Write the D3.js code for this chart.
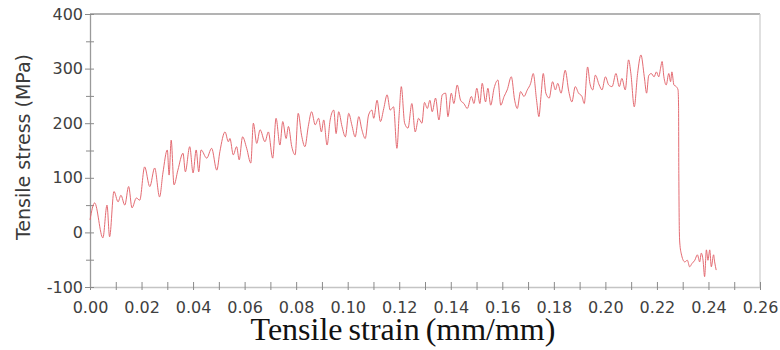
<!DOCTYPE html>
<html>
<head>
<meta charset="utf-8">
<script src="https://cdn.jsdelivr.net/npm/d3@7/dist/d3.min.js"></script>
<style>
  html, body { margin: 0; padding: 0; background: #fff; }
  svg { display: block; }
</style>
</head>
<body>
<svg id="chart" width="780" height="350"></svg>
<script>
// ---- data ----
const strain = [
  0.0000,0.0018,0.0050,0.0066,0.0076,0.0093,0.0109,0.0120,0.0135,0.0150,
  0.0163,0.0180,0.0193,0.0212,0.0232,0.0251,0.0270,0.0283,0.0300,0.0307,
  0.0315,0.0326,0.0341,0.0361,0.0370,0.0387,0.0400,0.0412,0.0422,0.0431,
  0.0453,0.0472,0.0492,0.0504,0.0524,0.0537,0.0543,0.0556,0.0569,0.0579,
  0.0592,0.0608,0.0624,0.0634,0.0647,0.0660,0.0679,0.0692,0.0709,0.0722,
  0.0737,0.0748,0.0761,0.0770,0.0783,0.0796,0.0808,0.0821,0.0834,0.0847,
  0.0860,0.0874,0.0887,0.0898,0.0907,0.0920,0.0932,0.0946,0.0955,0.0965,
  0.0978,0.0991,0.1004,0.1016,0.1029,0.1043,0.1055,0.1068,0.1081,0.1094,
  0.1101,0.1114,0.1127,0.1140,0.1153,0.1165,0.1178,0.1191,0.1200,0.1208,
  0.1221,0.1234,0.1249,0.1262,0.1275,0.1288,0.1298,0.1309,0.1319,0.1328,
  0.1341,0.1354,0.1367,0.1380,0.1389,0.1402,0.1412,0.1425,0.1438,0.1451,
  0.1464,0.1480,0.1490,0.1501,0.1513,0.1522,0.1535,0.1544,0.1555,0.1568,
  0.1583,0.1594,0.1607,0.1619,0.1635,0.1648,0.1658,0.1671,0.1684,0.1697,
  0.1710,0.1720,0.1733,0.1742,0.1750,0.1759,0.1769,0.1782,0.1795,0.1806,
  0.1815,0.1828,0.1844,0.1858,0.1870,0.1883,0.1896,0.1909,0.1918,0.1931,
  0.1940,0.1951,0.1961,0.1976,0.1987,0.2000,0.2013,0.2026,0.2041,0.2054,
  0.2064,0.2077,0.2090,0.2099,0.2112,0.2125,0.2138,0.2151,0.2160,0.2168,
  0.2178,0.2189,0.2198,0.2207,0.2215,0.2220,0.2227,0.2236,0.2246,0.2253,
  0.2258,0.2266,0.2275,0.2282,0.2284,0.2285,0.2288,0.2294,0.2308,0.2318,
  0.2327,0.2336,0.2347,0.2357,0.2366,0.2372,0.2379,0.2385,0.2392,0.2398,
  0.2405,0.2411,0.2420,0.2424,0.2430
];
const stress = [
  23,54,-10,50,-8,75,56,68,50,84,
  45,63,59,120,84,118,65,109,151,105,
  169,87,114,145,111,157,109,151,111,151,
  136,154,114,148,184,166,172,142,157,133,
  175,154,127,200,163,188,166,184,136,209,
  160,203,172,194,157,142,218,178,157,194,
  221,197,209,184,206,160,206,224,181,221,
  194,175,218,197,175,212,188,172,215,224,
  209,242,203,227,252,224,230,154,218,267,
  200,191,236,184,209,200,238,227,242,221,
  246,206,252,255,212,255,236,270,242,236,
  227,249,236,264,236,273,239,264,233,264,
  279,233,249,261,285,242,227,258,249,261,
  273,291,242,212,249,291,255,246,276,261,
  273,255,297,258,239,267,255,249,236,303,
  273,261,288,270,261,285,270,267,291,267,
  282,261,316,291,230,291,325,285,255,287,
  291,285,294,285,303,313,285,270,291,276,
  294,270,267,261,230,108,-14,-38,-54,-51,
  -63,-57,-51,-41,-54,-38,-51,-81,-32,-51,
  -32,-63,-41,-54,-69
];
const xTickLabels = [0,0.02,0.04,0.06,0.08,0.10,0.12,0.14,0.16,0.18,0.20,0.22,0.24,0.26];
const xMinorTicks = [0.01,0.03,0.05,0.07,0.09,0.11,0.13,0.15,0.17,0.19,0.21,0.23,0.25];
const yTickLabels = [-100,0,100,200,300,400];
const yMinorTicks = [-50,50,150,250,350];
const xTitle = "Tensile strain (mm/mm)";
const yTitle = "Tensile stress (MPa)";

// ---- layout ----
const W = 780, H = 350;
const m = { left: 90, top: 14, right: 20, bottom: 63 };
const iw = W - m.left - m.right, ih = H - m.top - m.bottom;

const svg = d3.select("#chart");
const g = svg.append("g").attr("transform", `translate(${m.left},${m.top})`);

const x = d3.scaleLinear().domain([0, 0.26]).range([0, iw]);
const y = d3.scaleLinear().domain([-100, 400]).range([ih, 0]);

// frame: top and right borders
g.append("line").attr("x1", 0).attr("x2", iw).attr("y1", 0).attr("y2", 0)
  .attr("stroke", "#9a9a9a").attr("stroke-width", 1.3);
g.append("line").attr("x1", iw).attr("x2", iw).attr("y1", 0).attr("y2", ih)
  .attr("stroke", "#d0d0d0").attr("stroke-width", 1.3);

const font = "'DejaVu Sans', Verdana, sans-serif";

// x axis
const xAxis = g.append("g").attr("transform", `translate(0,${ih})`)
  .call(d3.axisBottom(x).tickValues(xTickLabels).tickFormat(d3.format(".2f"))
    .tickSizeInner(5).tickSizeOuter(0).tickPadding(10));
xAxis.select(".domain").attr("stroke", "#c4c4c4").attr("stroke-width", 1.3);
xAxis.selectAll(".tick line").attr("stroke", "#8a8a8a").attr("y1", -5).attr("y2", 3);
xAxis.selectAll(".tick text").attr("fill", "#404040")
  .style("font-family", font).style("font-size", "16px");
const xMinor = g.append("g").attr("transform", `translate(0,${ih})`)
  .call(d3.axisBottom(x).tickValues(xMinorTicks).tickFormat("").tickSizeOuter(0));
xMinor.select(".domain").remove();
xMinor.selectAll(".tick line").attr("stroke", "#8a8a8a").attr("y1", -5).attr("y2", 3);

// y axis
const yAxis = g.append("g")
  .call(d3.axisLeft(y).tickValues(yTickLabels).tickFormat(d => String(d))
    .tickSizeInner(5).tickSizeOuter(0).tickPadding(2));
yAxis.select(".domain").attr("stroke", "#9a9a9a").attr("stroke-width", 1.3);
yAxis.selectAll(".tick line").attr("stroke", "#8a8a8a").attr("x1", -5).attr("x2", 4);
yAxis.selectAll(".tick text").attr("fill", "#404040").attr("x", -7)
  .style("font-family", font).style("font-size", "16px");
const yMinor = g.append("g")
  .call(d3.axisLeft(y).tickValues(yMinorTicks).tickFormat("").tickSizeOuter(0));
yMinor.select(".domain").remove();
yMinor.selectAll(".tick line").attr("stroke", "#8a8a8a").attr("x1", -4).attr("x2", 4);

// line
const pts = strain.map((s, i) => [s, stress[i]]);
const line = d3.line().x(d => x(d[0])).y(d => y(d[1])).curve(d3.curveMonotoneX);
g.append("path").datum(pts).attr("d", line)
  .attr("fill", "none").attr("stroke", "#e2636a").attr("stroke-width", 0.95)
  .attr("stroke-linejoin", "round");

// titles
svg.append("text")
  .attr("transform", `translate(23,147) rotate(-90)`)
  .attr("text-anchor", "middle").attr("dominant-baseline", "central")
  .attr("fill", "#3a3a3a")
  .style("font-family", font).style("font-size", "19px")
  .text(yTitle);

svg.append("text")
  .attr("x", 403).attr("y", 340)
  .attr("text-anchor", "middle").attr("fill", "#111")
  .style("font-family", "'Liberation Serif', 'Times New Roman', serif")
  .style("font-size", "32px").style("word-spacing", "-2px")
  .text(xTitle);
</script>
</body>
</html>
